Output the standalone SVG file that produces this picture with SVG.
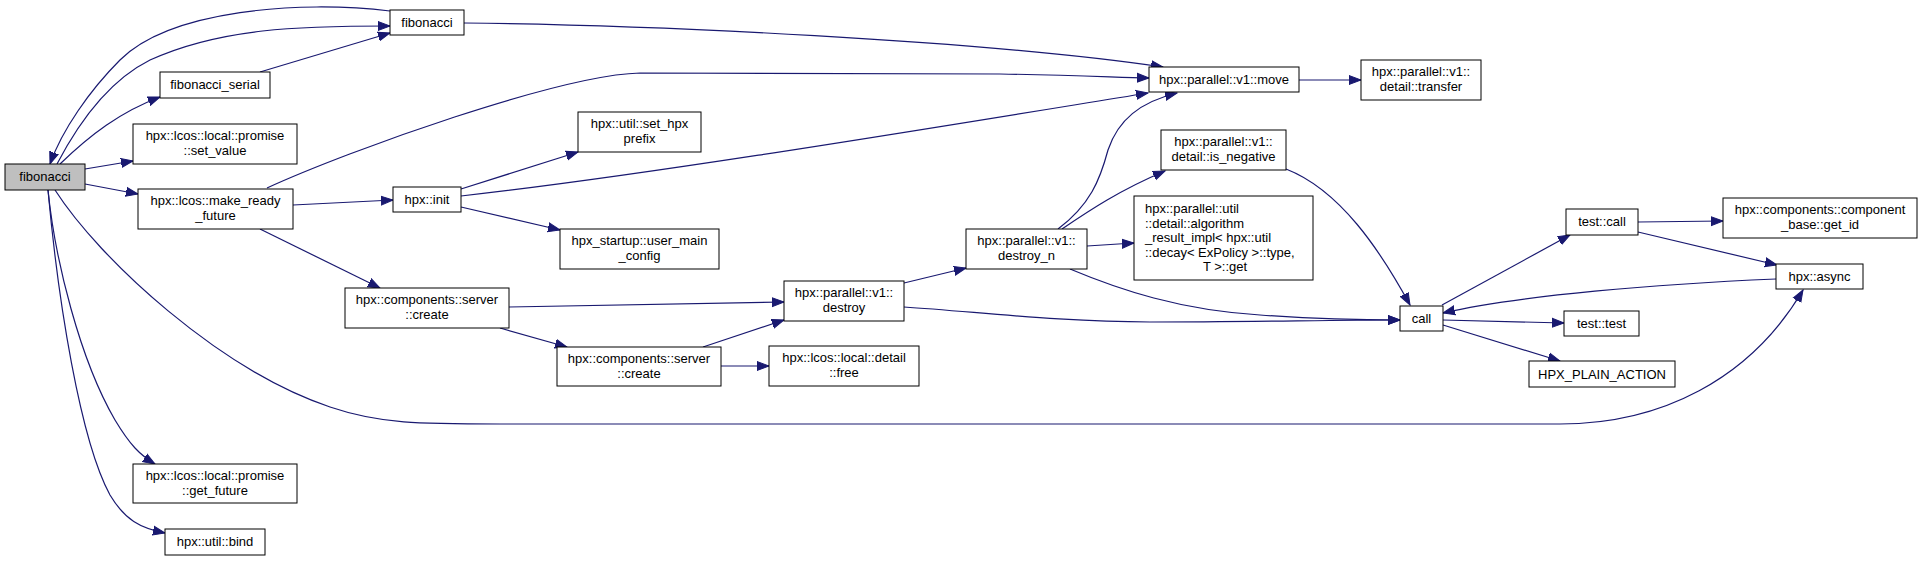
<svg xmlns="http://www.w3.org/2000/svg" width="1923" height="561" viewBox="0 0 1923 561">
<style>
.n rect{fill:#fff;stroke:#000;stroke-width:1}
.n.main rect{fill:#bfbfbf}
.n text{font-family:"Liberation Sans",Arial,sans-serif;font-size:13px;fill:#000;text-anchor:middle}
.n text.l{text-anchor:start}
#edges path{fill:none;stroke:#191970;stroke-width:1.2;marker-end:url(#ah)}
</style>
<defs>
<marker id="ah" markerUnits="userSpaceOnUse" markerWidth="14" markerHeight="12" refX="12" refY="5" orient="auto" viewBox="0 0 14 10">
<path d="M0,0.5 L12,5 L0,9.5 Z" fill="#191970" stroke="#191970"/>
</marker>
</defs>
<rect width="1923" height="561" fill="#fff"/>
<g id="edges">
<path d="M390,11 C300,0 170,10 120,60 C90,90 62,130 50,164"/>
<path d="M57,164 C80,120 110,80 150,60 C220,28 300,26 390,26"/>
<path d="M60,164 C90,135 120,112 160,97"/>
<path d="M260,72 L390,33"/>
<path d="M85,169 L133,161"/>
<path d="M85,184 L138,194"/>
<path d="M48,190 C55,260 80,360 115,420 C130,445 140,455 155,464"/>
<path d="M48,190 C58,300 80,440 110,495 C125,520 140,528 165,533"/>
<path d="M55,190 C100,260 220,370 330,407 C380,424 420,424 500,424 L1560,424 C1660,424 1750,380 1803,290"/>
<path d="M293,205 L393,200"/>
<path d="M267,188 C350,150 560,75 640,73 L1000,74 C1070,75 1110,77 1149,78"/>
<path d="M260,229 L380,288"/>
<path d="M464,23 C650,25 980,40 1163,67"/>
<path d="M461,189 L578,152"/>
<path d="M461,196 C650,175 950,125 1148,93"/>
<path d="M461,207 L560,230"/>
<path d="M509,307 L784,302"/>
<path d="M500,328 L567,347"/>
<path d="M703,347 L784,320"/>
<path d="M721,366 L769,366"/>
<path d="M904,283 L966,268"/>
<path d="M904,307 C980,312 1060,322 1150,322 C1250,322 1330,320 1400,320"/>
<path d="M1058,229 C1090,205 1100,180 1108,150 C1118,120 1140,102 1177,93"/>
<path d="M1062,229 C1090,210 1120,190 1165,171"/>
<path d="M1087,246 L1134,243"/>
<path d="M1070,269 C1120,290 1180,310 1260,315 C1330,320 1370,320 1400,320"/>
<path d="M1286,169 C1340,190 1380,250 1410,305"/>
<path d="M1442,305 L1570,235"/>
<path d="M1443,320 L1564,323"/>
<path d="M1443,325 L1560,361"/>
<path d="M1638,222 L1723,221"/>
<path d="M1638,232 L1777,265"/>
<path d="M1776,279 C1660,284 1520,295 1443,313"/>
<path d="M1299,80 L1361,80"/>
</g>
<g id="n_main" class="n main"><rect x="5" y="164" width="80" height="26"/><text x="45" y="181">fibonacci</text></g>
<g id="n_fib" class="n"><rect x="390" y="10" width="74" height="25"/><text x="427" y="27">fibonacci</text></g>
<g id="n_fibser" class="n"><rect x="160" y="72" width="110" height="26"/><text x="215" y="89">fibonacci_serial</text></g>
<g id="n_setval" class="n"><rect x="133" y="124" width="164" height="40"/><text x="215" y="140">hpx::lcos::local::promise</text><text x="215" y="155">::set_value</text></g>
<g id="n_mrf" class="n"><rect x="138" y="189" width="155" height="40"/><text x="215.5" y="205">hpx::lcos::make_ready</text><text x="215.5" y="220">_future</text></g>
<g id="n_getfut" class="n"><rect x="133" y="464" width="164" height="39"/><text x="215" y="480">hpx::lcos::local::promise</text><text x="215" y="495">::get_future</text></g>
<g id="n_bind" class="n"><rect x="165" y="529" width="100" height="26"/><text x="215" y="546">hpx::util::bind</text></g>
<g id="n_init" class="n"><rect x="393" y="187" width="68" height="25"/><text x="427" y="204">hpx::init</text></g>
<g id="n_prefix" class="n"><rect x="578" y="112" width="123" height="40"/><text x="639.5" y="128">hpx::util::set_hpx</text><text x="639.5" y="143">prefix</text></g>
<g id="n_umc" class="n"><rect x="560" y="229" width="159" height="40"/><text x="639.5" y="245">hpx_startup::user_main</text><text x="639.5" y="260">_config</text></g>
<g id="n_create1" class="n"><rect x="345" y="288" width="164" height="40"/><text x="427" y="304">hpx::components::server</text><text x="427" y="319">::create</text></g>
<g id="n_create2" class="n"><rect x="557" y="347" width="164" height="39"/><text x="639" y="363">hpx::components::server</text><text x="639" y="378">::create</text></g>
<g id="n_destroy" class="n"><rect x="784" y="281" width="120" height="40"/><text x="844" y="297">hpx::parallel::v1::</text><text x="844" y="312">destroy</text></g>
<g id="n_free" class="n"><rect x="769" y="346" width="150" height="40"/><text x="844" y="362">hpx::lcos::local::detail</text><text x="844" y="377">::free</text></g>
<g id="n_destroyn" class="n"><rect x="966" y="229" width="121" height="40"/><text x="1026.5" y="245">hpx::parallel::v1::</text><text x="1026.5" y="260">destroy_n</text></g>
<g id="n_move" class="n"><rect x="1149" y="67" width="150" height="25"/><text x="1224" y="84">hpx::parallel::v1::move</text></g>
<g id="n_transfer" class="n"><rect x="1361" y="60" width="120" height="40"/><text x="1421" y="76">hpx::parallel::v1::</text><text x="1421" y="91">detail::transfer</text></g>
<g id="n_isneg" class="n"><rect x="1161" y="130" width="125" height="40"/><text x="1223.5" y="146">hpx::parallel::v1::</text><text x="1223.5" y="161">detail::is_negative</text></g>
<g id="n_algres" class="n"><rect x="1134" y="196" width="179" height="84"/><text class="l" x="1145" y="213">hpx::parallel::util</text><text class="l" x="1145" y="227.5">::detail::algorithm</text><text class="l" x="1145" y="242">_result_impl&lt; hpx::util</text><text class="l" x="1145" y="256.5">::decay&lt; ExPolicy &gt;::type,</text><text x="1225" y="271">T &gt;::get</text></g>
<g id="n_call" class="n"><rect x="1400" y="306" width="43" height="25"/><text x="1421.5" y="323">call</text></g>
<g id="n_testcall" class="n"><rect x="1566" y="209" width="72" height="26"/><text x="1602" y="226">test::call</text></g>
<g id="n_getid" class="n"><rect x="1723" y="198" width="194" height="40"/><text x="1820" y="214">hpx::components::component</text><text x="1820" y="229">_base::get_id</text></g>
<g id="n_async" class="n"><rect x="1776" y="264" width="87" height="25"/><text x="1819.5" y="281">hpx::async</text></g>
<g id="n_testtest" class="n"><rect x="1564" y="311" width="75" height="25"/><text x="1601.5" y="328">test::test</text></g>
<g id="n_plain" class="n"><rect x="1529" y="361" width="146" height="26"/><text x="1602" y="378.5">HPX_PLAIN_ACTION</text></g>
</svg>
